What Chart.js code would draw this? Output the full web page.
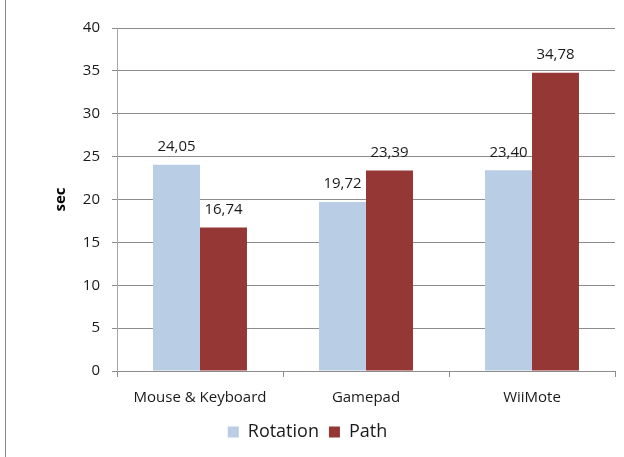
<!DOCTYPE html>
<html>
<head>
<meta charset="utf-8">
<script src="https://cdn.jsdelivr.net/npm/chart.js@4/dist/chart.umd.min.js"></script>
<style>
  html, body { margin: 0; padding: 0; background: #fff; }
  #wrap { position: relative; width: 624px; height: 457px; }
  #frame { position: absolute; left: 5px; top: 0; width: 1px; height: 457px; background: #8c8c8c; }
  canvas { position: absolute; left: 0; top: 0; }
</style>
</head>
<body>
<div id="wrap">
  <div id="frame"></div>
  <canvas id="barChart" width="624" height="457"></canvas>
</div>
<script>
// devices on the x axis
let devices = ['Mouse & Keyboard', 'Gamepad', 'WiiMote'];
// mean times in seconds
let rotation = [24.05, 19.72, 23.40];
let path = [16.74, 23.39, 34.78];
let yTicks = [0, 5, 10, 15, 20, 25, 30, 35, 40];

const fontFamily = '"Open Sans", Lato, sans-serif';

// writes the value above each bar, with a decimal comma
const valueLabels = {
    id: 'valueLabels',
    afterDatasetsDraw(chart) {
        let ctx = chart.ctx;
        ctx.save();
        ctx.font = '15px ' + fontFamily;
        ctx.fillStyle = '#1a1a1a';
        ctx.textAlign = 'center';
        ctx.textBaseline = 'middle';
        chart.data.datasets.forEach(function (ds, i) {
            chart.getDatasetMeta(i).data.forEach(function (bar, j) {
                let txt = ds.data[j].toFixed(2).replace('.', ',');
                ctx.fillText(txt, bar.x, bar.y - 18);
            });
        });
        ctx.restore();
    }
};

var ctx = document.getElementById('barChart');

var barChart = new Chart(ctx, {
    type: 'bar',
    data: {
        labels: devices,
        datasets: [
            { label: 'Rotation', data: rotation, backgroundColor: '#B9CDE5' },
            { label: 'Path', data: path, backgroundColor: '#953735' }
        ]
    },
    options: {
        responsive: false,
        animation: false,
        categoryPercentage: 0.566,
        barPercentage: 1,
        layout: { padding: { left: 0, right: 9, top: 28, bottom: 6 } },
        plugins: {
            legend: {
                position: 'bottom',
                labels: {
                    boxWidth: 11,
                    boxHeight: 11,
                    color: '#1a1a1a',
                    font: { family: fontFamily, size: 18 },
                    padding: 10
                }
            },
            tooltip: { enabled: false }
        },
        scales: {
            x: {
                afterFit: function (scale) { scale.height = 42; },
                grid: { drawOnChartArea: false, offset: true, tickLength: 6, color: '#8c8c8c' },
                border: { color: '#8c8c8c' },
                ticks: { color: '#1a1a1a', font: { family: fontFamily, size: 15 }, padding: 12 }
            },
            y: {
                min: 0,
                max: 40,
                afterBuildTicks: function (scale) {
                    scale.ticks = yTicks.map(function (v) { return { value: v }; });
                },
                afterFit: function (scale) { scale.width = 117; },
                grid: { color: '#8c8c8c', tickLength: 5 },
                border: { color: '#a6a6a6' },
                ticks: { color: '#1a1a1a', font: { family: fontFamily, size: 15 }, padding: 12 },
                title: {
                    display: true,
                    text: 'sec',
                    color: '#000',
                    font: { family: fontFamily, size: 15, weight: 'bold' },
                    padding: { top: 52 }
                }
            }
        }
    },
    plugins: [valueLabels]
});
</script>
</body>
</html>
